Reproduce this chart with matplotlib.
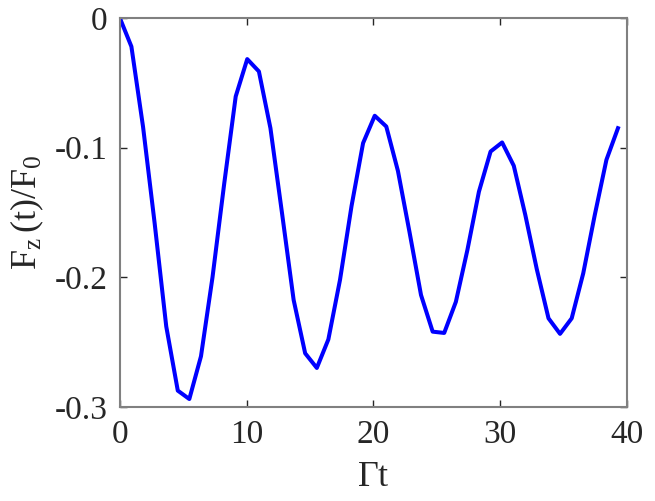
import matplotlib
matplotlib.use('Agg')
import matplotlib.pyplot as plt

# time samples (Gamma t) and normalised force
gamma_t = [0.0, 0.91, 1.83, 2.74, 3.66, 4.57, 5.48, 6.40, 7.31, 8.23,
           9.14, 10.05, 10.97, 11.88, 12.80, 13.71, 14.62, 15.54, 16.45, 17.37,
           18.28, 19.19, 20.11, 21.02, 21.94, 22.85, 23.76, 24.68, 25.59, 26.51,
           27.42, 28.33, 29.25, 30.16, 31.08, 31.99, 32.90, 33.82, 34.73, 35.65,
           36.56, 37.47, 38.39, 39.30]
force = [0.0, -0.022, -0.084, -0.158, -0.238, -0.2875, -0.294, -0.261, -0.200, -0.128,
         -0.0605, -0.0317, -0.0412, -0.085, -0.151, -0.2175, -0.2587, -0.270, -0.248, -0.202,
         -0.145, -0.0965, -0.0754, -0.0837, -0.118, -0.165, -0.2137, -0.242, -0.243, -0.219,
         -0.179, -0.134, -0.103, -0.096, -0.114, -0.152, -0.194, -0.2317, -0.2437, -0.2317,
         -0.197, -0.152, -0.1094, -0.085]

x_ticks = [0, 10, 20, 30, 40]
y_ticks = [-0.3, -0.2, -0.1, 0]
y_tick_labels = ['-0.3', '-0.2', '-0.1', '0']

plt.rcParams['font.family'] = ['Liberation Serif', 'DejaVu Serif']
plt.rcParams['mathtext.fontset'] = 'custom'
plt.rcParams['mathtext.rm'] = 'Liberation Serif'
plt.rcParams['mathtext.it'] = 'Liberation Serif'

fig = plt.figure(figsize=(6.55, 5.01), dpi=100)
ax = fig.add_axes([0.183, 0.188, 0.774, 0.776])

ax.plot(gamma_t, force, color='#0000ff', linewidth=2.9)

ax.set_xlim(0, 40)
ax.set_ylim(-0.3, 0)
ax.set_xticks(x_ticks)
ax.set_yticks(y_ticks)
ax.set_yticklabels(y_tick_labels)

ax.tick_params(direction='in', length=5, width=1, colors='#262626',
               labelsize=24, top=True, right=True, pad=9)
for s in ax.spines.values():
    s.set_color('#808080')
    s.set_linewidth(1.5)

ax.set_xlabel(r'$\mathrm{\Gamma t}$', fontsize=26, color='#262626', labelpad=8)
ax.set_ylabel(r'$\mathrm{F_{z}\,(t)/F_{0}}$', fontsize=26, color='#262626', labelpad=6)

fig.savefig('out.png', dpi=100)
